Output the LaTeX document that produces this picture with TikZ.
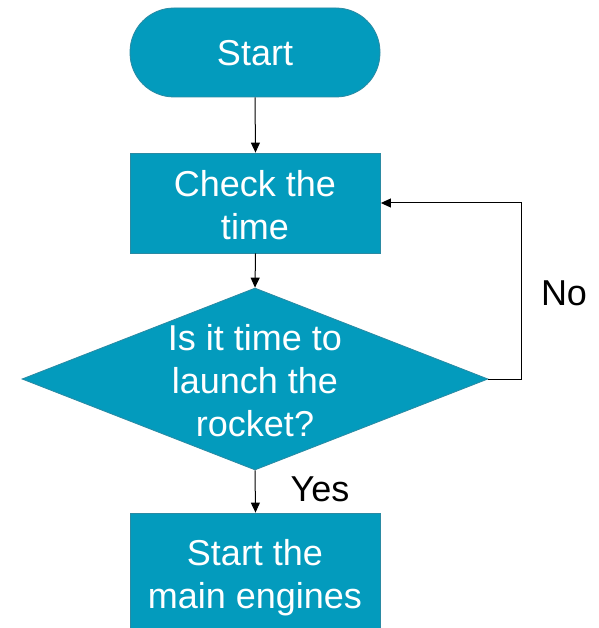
\documentclass[tikz,border=0pt]{standalone}
\usepackage{fontspec}
\setmainfont{Liberation Sans}
\usetikzlibrary{shapes.geometric,arrows.meta}
\definecolor{flowfill}{HTML}{039BBD}
\definecolor{flowedge}{HTML}{2A8AA3}
\tikzset{
  x=1pt, y=-1pt,
  shapebase/.style={fill=flowfill, draw=flowedge, line width=0.8pt, inner sep=0pt},
  terminal/.style={shapebase, rectangle, rounded corners=44pt, minimum width=250pt, minimum height=89pt},
  process/.style={shapebase, rectangle, minimum width=250pt, minimum height=100pt},
  decision/.style={shapebase, diamond, minimum width=466pt, minimum height=182pt},
  boxtext/.style={text=white, align=center, font=\fontsize{36}{43}\selectfont, inner sep=0pt},
  labeltext/.style={text=black, font=\fontsize{36}{43}\selectfont, inner sep=0pt},
  flow/.style={draw=black, line width=1pt, -{Triangle[length=10pt,width=9pt]}}
}
\begin{document}
\begin{tikzpicture}
\useasboundingbox (0,0) rectangle (598,628);
\clip (0,0) rectangle (598,628);

% shapes
\node[terminal] (start) at (255,52.5) {};
\node[process] (check) at (255.5,203) {};
\node[decision] (ask) at (255,379) {};
\node[process, minimum height=140pt] (engines) at (255.5,583) {};

% texts inside shapes
\node[boxtext] (starttxt) at (255,53) {Start};
\node[boxtext] (checktxt) at (255,205) {Check the\\time};
\node[boxtext] (asktxt) at (255,381) {Is it time to\\launch the\\rocket?};
\node[boxtext] (enginestxt) at (255,578) {Start the\\main engines};

% branch labels
\node[labeltext] (yes) at (320,489) {Yes};
\node[labeltext] (no) at (564,293) {No};

% connectors
\coordinate (loopbot) at (521,379);
\coordinate (looptop) at (521,203);
\draw[flow] (start.south) -- (check.north);
\draw[flow] (check.south) -- (ask.north);
\draw[flow] (ask.south) -- (engines.north);
\draw[flow] (ask.east) -- (loopbot) -- (looptop) -- (check.east);
\end{tikzpicture}
\end{document}
